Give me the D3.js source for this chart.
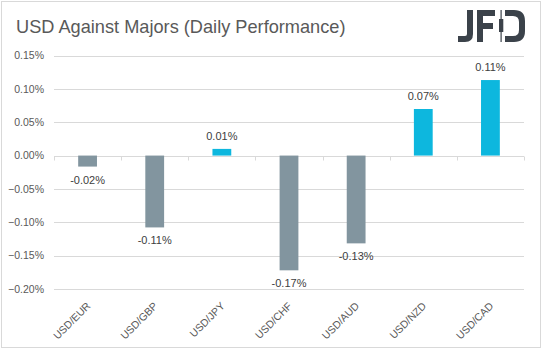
<!DOCTYPE html>
<html>
<head>
<meta charset="utf-8">
<script src="https://cdn.jsdelivr.net/npm/d3@7"></script>
<style>
  html, body { margin: 0; padding: 0; background: #fff; }
  svg { display: block; }
  text { font-family: "Liberation Sans", Arial, sans-serif; }
</style>
</head>
<body>
<svg id="chart" width="543" height="351"></svg>
<script>
const categories = ["USD/EUR", "USD/GBP", "USD/JPY", "USD/CHF", "USD/AUD", "USD/NZD", "USD/CAD"];
const values = [-0.0165, -0.1077, 0.0100, -0.1720, -0.1316, 0.0698, 0.1132];
const valueLabels = ["-0.02%", "-0.11%", "0.01%", "-0.17%", "-0.13%", "0.07%", "0.11%"];
const yTicks = [0.15, 0.10, 0.05, 0.00, -0.05, -0.10, -0.15, -0.20];
const title = "USD Against Majors (Daily Performance)";

const svg = d3.select("#chart");
const plot = { left: 54, right: 524, top: 55.5, bottom: 289 };

// outer frame
svg.append("rect").attr("x", 1.5).attr("y", 1.5).attr("width", 539).attr("height", 346)
  .attr("fill", "#fff").attr("stroke", "#d9d9d9").attr("stroke-width", 1);

// title
svg.append("text").attr("x", 16).attr("y", 33)
  .attr("font-size", 18.2).attr("fill", "#595959").text(title);

// logo
const logo = svg.append("g").attr("fill", "#3b424a");
logo.append("path").attr("d", "M467,10 H473 V34 Q473,42 465,42 H458 V36 H465 Q467,36 467,34 Z");
logo.append("path").attr("d", "M477,10 H495 V16 H483 V23 H493 V29 H483 V42 H477 Z");
logo.append("rect").attr("x", 500.5).attr("y", 10).attr("width", 1.2).attr("height", 32);
logo.append("rect").attr("x", 499).attr("y", 19).attr("width", 4.3).attr("height", 13);
logo.append("path").attr("d", "M505,10 H514 Q525,10 525,21 V31 Q525,42 514,42 H505 V36 H513 Q519,36 519,30 V22 Q519,16 513,16 H505 Z");

const x = d3.scaleBand().domain(categories).range([plot.left, plot.right])
  .paddingInner(0.72).paddingOuter(0.36);
const y = d3.scaleLinear().domain([-0.20, 0.15]).range([plot.bottom, plot.top]);

// gridlines
svg.append("g").selectAll("line").data(yTicks).join("line")
  .attr("x1", plot.left).attr("x2", plot.right)
  .attr("y1", d => Math.round(y(d)) + 0.5).attr("y2", d => Math.round(y(d)) + 0.5)
  .attr("stroke", "#d9d9d9").attr("stroke-width", 1);

// y-axis labels
svg.append("g").selectAll("text").data(yTicks).join("text")
  .attr("x", 44).attr("y", d => y(d)).attr("dy", "0.35em")
  .attr("text-anchor", "end").attr("font-size", 10.5).attr("fill", "#595959")
  .text(d => d3.format(".2f")(d) + "%");

// category tick marks on zero line
const step = x.step();
const boundaries = d3.range(categories.length + 1).map(i => plot.left + i * step);
const y0 = Math.round(y(0)) + 0.5;
svg.append("g").selectAll("line").data(boundaries).join("line")
  .attr("x1", d => Math.round(d) + 0.5).attr("x2", d => Math.round(d) + 0.5)
  .attr("y1", y0).attr("y2", y0 + 4)
  .attr("stroke", "#d9d9d9").attr("stroke-width", 1);

// bars
svg.append("g").selectAll("rect").data(values).join("rect")
  .attr("x", (d, i) => x(categories[i]))
  .attr("width", x.bandwidth())
  .attr("y", d => y(Math.max(0, d)))
  .attr("height", d => Math.abs(y(d) - y(0)))
  .attr("fill", d => d >= 0 ? "#0db7de" : "#82959f");

// value labels
svg.append("g").selectAll("text").data(values).join("text")
  .attr("x", (d, i) => x(categories[i]) + x.bandwidth() / 2)
  .attr("y", d => d >= 0 ? y(d) - 9 : y(d) + 17)
  .attr("text-anchor", "middle").attr("font-size", 11).attr("fill", "#404040")
  .text((d, i) => valueLabels[i]);

// x-axis labels
svg.append("g").selectAll("text").data(categories).join("text")
  .attr("transform", d => `translate(${x(d) + x.bandwidth() / 2 + 1},${304}) rotate(-45)`)
  .attr("text-anchor", "end").attr("font-size", 10.5).attr("fill", "#595959")
  .attr("dy", "0.35em")
  .text(d => d);
</script>
</body>
</html>
